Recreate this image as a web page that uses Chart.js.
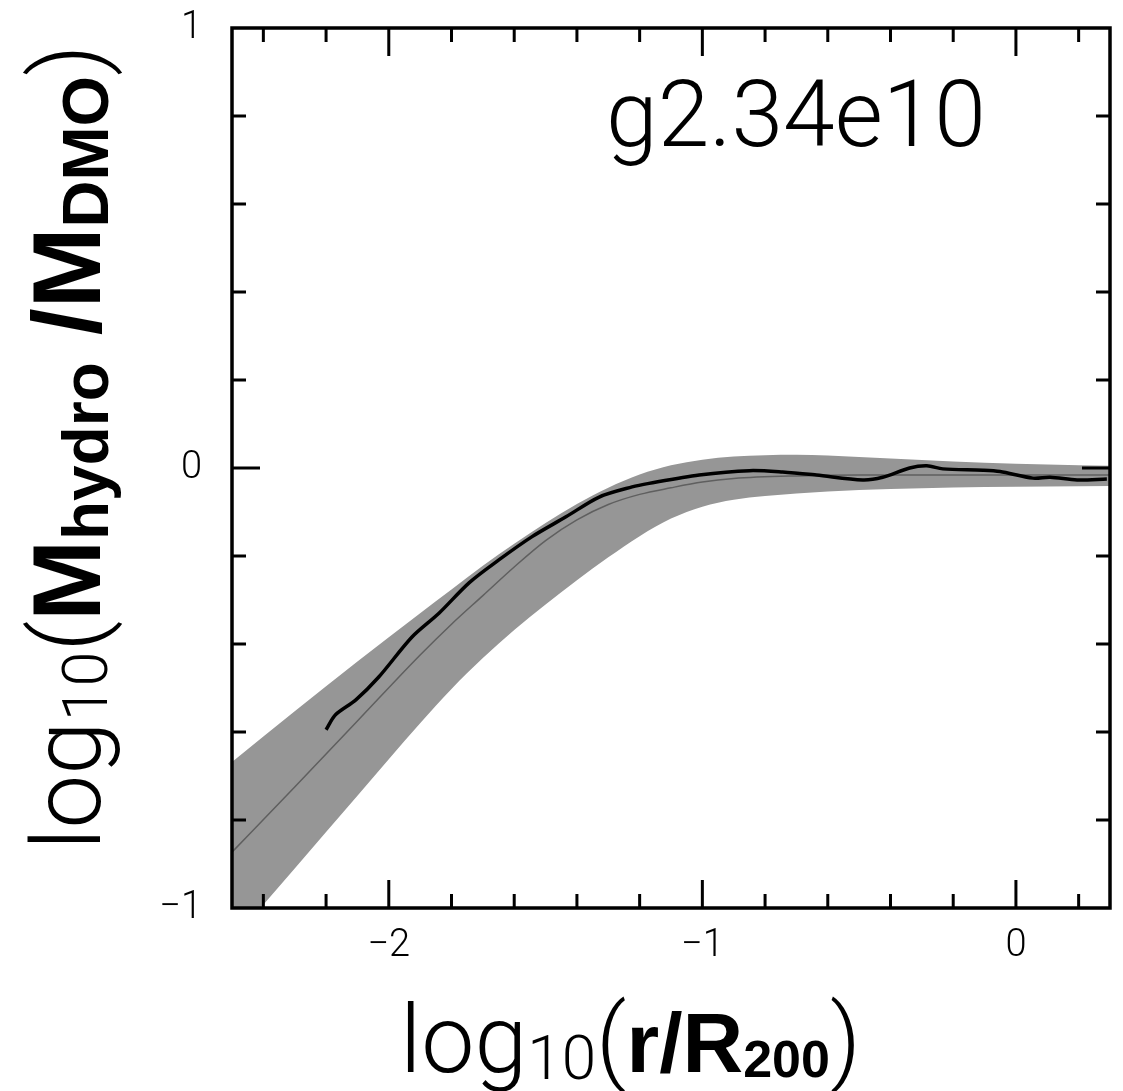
<!DOCTYPE html>
<html>
<head>
<meta charset="utf-8">
<script src="https://cdn.jsdelivr.net/npm/chart.js@4.4.1/dist/chart.umd.min.js"></script>
<style>
  html, body { margin: 0; padding: 0; background: #fff; }
  #wrap { width: 1123px; height: 1091px; position: relative; }
</style>
</head>
<body>
<div id="wrap"><canvas id="massRatio"></canvas></div>
<script>
// model band (log10 r/R200 -> log10 Mhydro/MDMO)
const bandX     = [-2.5, -2.3, -2.1, -1.9, -1.8, -1.7, -1.6, -1.5, -1.4, -1.3, -1.2, -1.1, -1.0, -0.9, -0.7, -0.5, -0.3, -0.1, 0.1, 0.3];
const bandUpper = [-0.668, -0.553, -0.440, -0.330, -0.276, -0.222, -0.172, -0.125, -0.082, -0.045, -0.015, 0.006, 0.019, 0.026, 0.030, 0.025, 0.018, 0.012, 0.008, 0.005];
const bandLower = [-1.075, -0.910, -0.745, -0.580, -0.502, -0.432, -0.368, -0.310, -0.255, -0.203, -0.155, -0.115, -0.088, -0.072, -0.058, -0.050, -0.046, -0.043, -0.042, -0.041];
const bandMid   = [-0.873, -0.725, -0.575, -0.425, -0.355, -0.290, -0.225, -0.165, -0.118, -0.083, -0.060, -0.045, -0.032, -0.024, -0.018, -0.016, -0.016, -0.016, -0.016, -0.016];

// simulated halo g2.34e10
const simX = [-2.2, -2.17, -2.105, -2.032, -1.926, -1.84, -1.744, -1.649, -1.543, -1.435, -1.329, -1.224, -1.17, -1.01, -0.85, -0.744, -0.636, -0.489, -0.425, -0.339, -0.284, -0.233, -0.105, -0.051, 0.054, 0.109, 0.195, 0.29];
const simY = [-0.595, -0.561, -0.527, -0.475, -0.384, -0.33, -0.261, -0.209, -0.156, -0.111, -0.066, -0.043, -0.035, -0.016, -0.006, -0.009, -0.016, -0.027, -0.021, 0.0, 0.005, -0.002, -0.005, -0.008, -0.023, -0.021, -0.027, -0.025];

const xTickValues = [-2.4, -2.2, -2, -1.8, -1.6, -1.4, -1.2, -1, -0.8, -0.6, -0.4, -0.2, 0, 0.2];
const xLabelValues = [-2, -1, 0];
const yTickValues = [-0.8, -0.6, -0.4, -0.2, 0, 0.2, 0.4, 0.6, 0.8];
const yLabelValues = [-1, 0, 1];

const haloName = 'g2.34e10';

const lightFam = "Roboto, 'Liberation Sans', sans-serif";
const boldFam = "'Liberation Sans', Arial, sans-serif";

function pts(xs, ys){
  return xs.map((v, i) => ({x: v, y: ys[i]}));
}

function fmt(v){
  return v < 0 ? '\u2212' + Math.abs(v) : String(v);
}

// draws a row of text pieces with different sizes / weights
function drawRuns(ctx, runs){
  let cx = 0;
  runs.forEach(r => {
    ctx.font = (r.bold ? '700 ' : '300 ') + r.size + 'px ' + (r.bold ? boldFam : lightFam);
    ctx.fillText(r.t, cx, r.dy || 0);
    cx += ctx.measureText(r.t).width;
  });
}

const frameTicks = {
  id: 'frameTicks',
  afterDatasetsDraw(chart){
    const {ctx, chartArea: a, scales} = chart;
    const x = scales.x, y = scales.y;
    ctx.save();
    ctx.strokeStyle = '#000';
    ctx.lineWidth = 3;
    ctx.beginPath();
    xTickValues.forEach(v => {
      const px = x.getPixelForValue(v);
      const len = xLabelValues.includes(v) ? 28 : 14;
      ctx.moveTo(px, a.bottom); ctx.lineTo(px, a.bottom - len);
      ctx.moveTo(px, a.top); ctx.lineTo(px, a.top + len);
    });
    yTickValues.forEach(v => {
      const py = y.getPixelForValue(v);
      const len = v === 0 ? 28 : 14;
      ctx.moveTo(a.left, py); ctx.lineTo(a.left + len, py);
      ctx.moveTo(a.right, py); ctx.lineTo(a.right - len, py);
    });
    ctx.stroke();
    ctx.lineWidth = 3.5;
    ctx.strokeRect(a.left, a.top, a.right - a.left, a.bottom - a.top);
    ctx.restore();
  },
  afterDraw(chart){
    const ctx = chart.ctx;
    ctx.save();
    ctx.fillStyle = '#000';
    ctx.textBaseline = 'alphabetic';
    ctx.textAlign = 'left';

    // halo name inside the panel
    ctx.font = '300 93px ' + lightFam;
    ctx.fillText(haloName, 606, 146);

    // x title
    ctx.save();
    ctx.translate(400, 1072);
    drawRuns(ctx, [
      {t: 'log', size: 95},
      {t: '10', size: 62, dy: 7},
      {t: '(', size: 95},
      {t: 'r/R', size: 84, bold: true},
      {t: '200', size: 52, bold: true, dy: 5},
      {t: ')', size: 95}
    ]);
    ctx.restore();

    // y title, rotated
    ctx.save();
    ctx.translate(100, 850);
    ctx.rotate(-Math.PI / 2);
    drawRuns(ctx, [
      {t: 'log', size: 96},
      {t: '10', size: 63, dy: 7},
      {t: '(', size: 96},
      {t: 'M', size: 97, bold: true},
      {t: 'hydro', size: 64, bold: true, dy: 8},
      {t: ' /M', size: 97, bold: true},
      {t: 'DMO', size: 65, bold: true, dy: 8},
      {t: ')', size: 96}
    ]);
    ctx.restore();
    ctx.restore();
  }
};

const ctx = document.getElementById('massRatio');

new Chart(ctx, {
  type: 'line',
  data: {
    datasets: [
      {
        label: 'upper',
        data: pts(bandX, bandUpper),
        borderColor: 'rgba(0,0,0,0)',
        borderWidth: 0,
        backgroundColor: 'rgb(150, 150, 150)',
        fill: '+1',
        cubicInterpolationMode: 'monotone',
        order: 3
      },
      {
        label: 'lower',
        data: pts(bandX, bandLower),
        borderColor: 'rgba(0,0,0,0)',
        borderWidth: 0,
        fill: false,
        cubicInterpolationMode: 'monotone',
        order: 2
      },
      {
        label: 'model',
        data: pts(bandX, bandMid),
        borderColor: 'rgb(95, 95, 95)',
        borderWidth: 1.5,
        fill: false,
        cubicInterpolationMode: 'monotone',
        order: 1
      },
      {
        label: haloName,
        data: pts(simX, simY),
        borderColor: '#000',
        borderWidth: 3.5,
        fill: false,
        tension: 0.3,
        order: 0
      }
    ]
  },
  options: {
    responsive: true,
    maintainAspectRatio: false,
    animation: false,
    elements: { point: { radius: 0 } },
    layout: { padding: { left: 0, top: 28, right: 13, bottom: 0 } },
    scales: {
      x: {
        type: 'linear',
        min: -2.5,
        max: 0.3,
        grid: { display: false, drawTicks: false },
        border: { display: false },
        afterBuildTicks: s => { s.ticks = xLabelValues.map(v => ({value: v})); },
        afterFit: s => { s.height = 183; s.paddingLeft = 0; s.paddingRight = 0; },
        ticks: {
          color: '#000',
          padding: 16,
          autoSkip: false,
          maxRotation: 0,
          font: { family: lightFam, size: 38, weight: 300 },
          callback: v => fmt(v)
        }
      },
      y: {
        type: 'linear',
        min: -1,
        max: 1,
        grid: { display: false, drawTicks: false },
        border: { display: false },
        afterBuildTicks: s => { s.ticks = yLabelValues.map(v => ({value: v})); },
        afterFit: s => { s.width = 232; s.paddingTop = 0; s.paddingBottom = 0; },
        ticks: {
          color: '#000',
          padding: 30,
          autoSkip: false,
          font: { family: lightFam, size: 38, weight: 300 },
          callback: v => fmt(v)
        }
      }
    },
    plugins: {
      legend: { display: false },
      tooltip: { enabled: false },
      filler: { drawTime: 'beforeDatasetsDraw' }
    }
  },
  plugins: [frameTicks]
});
</script>
</body>
</html>
